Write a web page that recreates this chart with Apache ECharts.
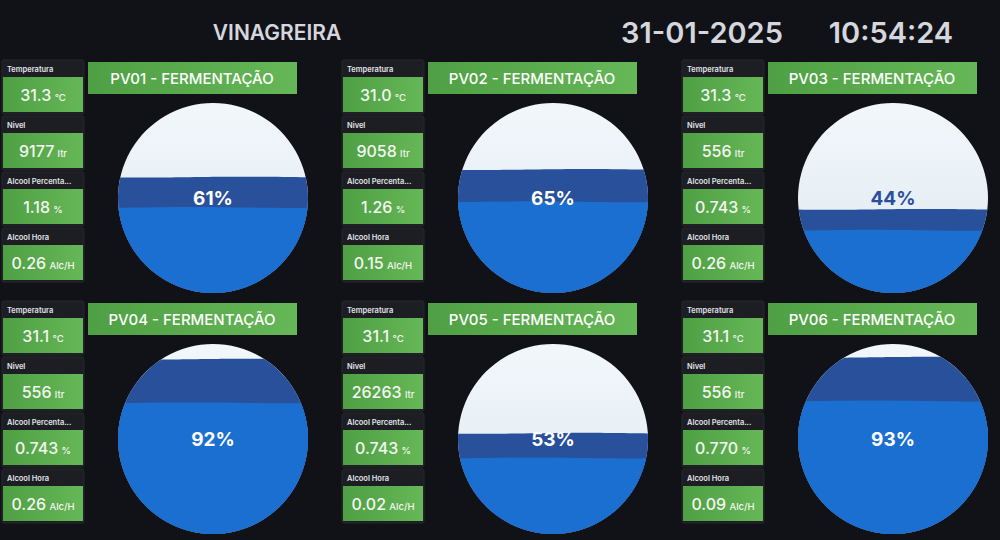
<!DOCTYPE html>
<html><head><meta charset="utf-8">
<script src="https://cdn.jsdelivr.net/npm/echarts@6/dist/echarts.min.js"></script>
<style>html,body{margin:0;padding:0;background:#111217;}#c{width:1000px;height:540px;}</style>
</head><body><div id="c"></div>
<script>
// ---- data ----
const tanks = ['PV01', 'PV02', 'PV03', 'PV04', 'PV05', 'PV06'];
const levelPct = [61, 65, 44, 92, 53, 93];          // liquid level (%)
const frontWavePct = [45, 48, 33, 69, 40, 70];      // front wave level (%)
const temperatura = ['31.3', '31.0', '31.3', '31.1', '31.1', '31.1'];
const nivel = ['9177', '9058', '556', '556', '26263', '556'];
const alcoolPercent = ['1.18', '1.26', '0.743', '0.743', '0.743', '0.770'];
const alcoolHora = ['0.26', '0.15', '0.26', '0.26', '0.02', '0.09'];
const statLabels = ['Temperatura', 'Nivel', 'Alcool Percenta...', 'Alcool Hora'];
const statUnits = ['°C', 'ltr', '%', 'Alc/H'];
const headerTitle = 'VINAGREIRA';
const headerDate = '31-01-2025';
const headerTime = '10:54:24';
const panelSuffix = ' - FERMENTAÇÃO';

// ---- layout ----
const FONT = 'Inter, "Noto Sans", sans-serif';
const panelX = [0, 340, 680];
const rowY = [0, 241];
const R = 95;
const greenGrad = {type: 'linear', x: 0, y: 0, x2: 1, y2: 0,
  colorStops: [{offset: 0, color: '#4f9f44'}, {offset: 1, color: '#66b757'}]};

function waterPoints(api, L, phase, amp) {
  const h = L / 50 - 1;
  const xr = Math.sqrt(Math.max(0, 1 - h * h));
  const pts = [];
  const N = 40;
  for (let k = 0; k <= N; k++) {
    const nx = -xr + 2 * xr * k / N;
    let ny = h + amp * Math.sin(phase + nx * Math.PI * 0.9);
    const lim = Math.sqrt(Math.max(0, 1 - nx * nx));
    ny = Math.max(-lim, Math.min(lim, ny));
    pts.push(api.coord([nx, 50 + 50 * ny]));
  }
  const ar = Math.asin(h), al = -Math.PI - ar;
  const M = 90;
  for (let k = 1; k < M; k++) {
    const a = ar + (al - ar) * k / M;
    pts.push(api.coord([Math.cos(a), 50 + 50 * Math.sin(a)]));
  }
  return pts;
}

function renderTank(params, api) {
  const level = api.value(1), front = api.value(2);
  const c = api.coord([0, 50]);
  const r = api.coord([1, 50])[0] - c[0];
  const children = [
    {type: 'circle', shape: {cx: c[0], cy: c[1], r: r},
      style: {fill: {type: 'linear', x: 0, y: 0, x2: 0, y2: 1, colorStops: [
        {offset: 0, color: '#f2f7fb'}, {offset: 0.6, color: '#e6eef4'}, {offset: 1, color: '#d3dce4'}]}}},
    {type: 'polygon', shape: {points: waterPoints(api, level, 0.6, 0.005)},
      style: {fill: '#28509b'}},
    {type: 'polygon', shape: {points: waterPoints(api, front, 2.2, 0.005)},
      style: {fill: '#1b6fd0'}},
    {type: 'text', x: c[0], y: c[1],
      style: {text: level + '%', fill: level >= 50 ? '#ffffff' : '#2a4f9e',
        font: 'bold 19px ' + FONT, align: 'center', verticalAlign: 'middle'}}
  ];
  return {type: 'group', children: children};
}

const grids = [], xAxes = [], yAxes = [], series = [], graphics = [];

graphics.push({type: 'text', x: 277, y: 32, style: {text: headerTitle, fill: '#d5d6de',
  font: '600 21px ' + FONT, align: 'center', verticalAlign: 'middle'}});
graphics.push({type: 'text', x: 702, y: 32, style: {text: headerDate, fill: '#d5d6de',
  font: '600 29px ' + FONT, align: 'center', verticalAlign: 'middle'}});
graphics.push({type: 'text', x: 891, y: 32, style: {text: headerTime, fill: '#d5d6de',
  font: '600 29px ' + FONT, align: 'center', verticalAlign: 'middle'}});

tanks.forEach((t, i) => {
  const ox = panelX[i % 3], oy = rowY[Math.floor(i / 3)];
  const cx = ox + 213, cy = oy + 198;
  grids.push({left: cx - R, top: cy - R, width: 2 * R, height: 2 * R});
  xAxes.push({type: 'value', gridIndex: i, min: -1, max: 1, show: false});
  yAxes.push({type: 'value', gridIndex: i, min: 0, max: 100, show: false});
  series.push({type: 'custom', name: t, coordinateSystem: 'cartesian2d',
    xAxisIndex: i, yAxisIndex: i, data: [[0, levelPct[i], frontWavePct[i]]],
    renderItem: renderTank, clip: false, silent: true, animation: false});

  // title box
  graphics.push({type: 'rect', shape: {x: ox + 88, y: oy + 62, width: 209, height: 32},
    style: {fill: greenGrad}});
  graphics.push({type: 'text', x: ox + 192, y: oy + 78, style: {text: t + panelSuffix,
    fill: '#ffffff', font: '500 15px ' + FONT, align: 'center', verticalAlign: 'middle'}});

  // stat boxes
  const vals = [temperatura[i], nivel[i], alcoolPercent[i], alcoolHora[i]];
  vals.forEach((v, k) => {
    const by = oy + 60 + 56 * k;
    graphics.push({type: 'rect', shape: {x: ox + 2, y: by, width: 82, height: 54, r: 2},
      style: {fill: '#1c1e23', stroke: '#26282d', lineWidth: 1}});
    graphics.push({type: 'text', x: ox + 7, y: by + 9, style: {text: statLabels[k],
      fill: '#e4e5ea', font: '600 7.5px ' + FONT, align: 'left', verticalAlign: 'middle'}});
    graphics.push({type: 'rect', shape: {x: ox + 3, y: by + 17, width: 80, height: 35},
      style: {fill: greenGrad}});
    graphics.push({type: 'text', x: ox + 43, y: by + 35, style: {
      text: '{v|' + v + '} {u|' + statUnits[k] + '}',
      align: 'center', verticalAlign: 'middle',
      rich: {
        v: {fill: '#f4f6f2', font: '500 16px ' + FONT, verticalAlign: 'bottom'},
        u: {fill: '#f4f6f2', font: '500 9.5px ' + FONT, verticalAlign: 'bottom', padding: [0, 0, 1, 0]}
      }}});
  });
});

const chart = echarts.init(document.getElementById('c'), null, {renderer: 'svg'});
chart.setOption({
  backgroundColor: '#111217',
  animation: false,
  grid: grids, xAxis: xAxes, yAxis: yAxes, series: series,
  graphic: {elements: graphics}
});
</script>
</body></html>
